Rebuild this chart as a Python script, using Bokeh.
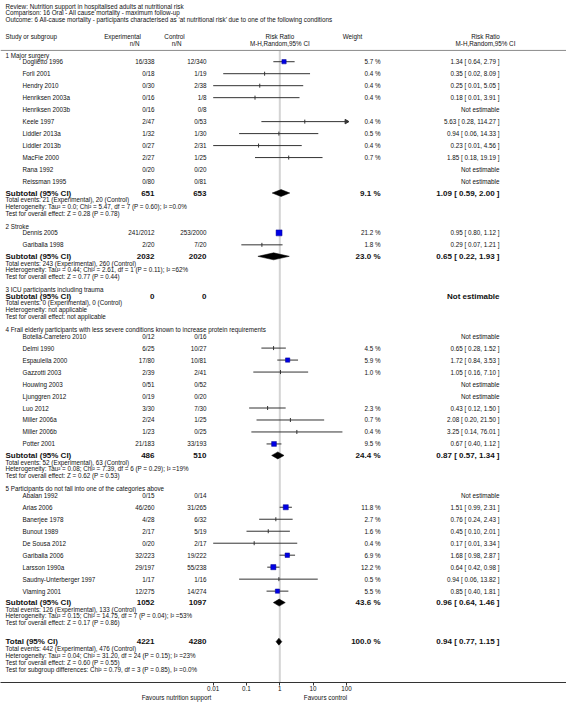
import math
from bokeh.plotting import figure
from bokeh.models import (Range1d, LogScale, LogAxis, LinearAxis, FixedTicker, ColumnDataSource)
from bokeh.core.properties import value
from bokeh.embed import file_html
from bokeh.resources import INLINE

# ---------------- data ----------------
review = "Review:  Nutrition support in hospitalised adults at nutritional risk"
comparison = "Comparison:  16 Oral - All cause mortality - maximum follow-up"
outcome = "Outcome:  6 All-cause mortality - participants characterised as \u2018at nutritional risk\u2019 due to one of the following conditions"

group_titles = [
    "1 Major surgery",
    "2 Stroke",
    "3 ICU participants including trauma",
    "4 Frail elderly participants with less severe conditions known to increase protein requirements",
    "5 Participants do not fall into one of the categories above",
]

names1 = ["Doglietto 1996", "Forli 2001", "Hendry 2010", "Henriksen 2003a", "Henriksen 2003b", "Keele 1997",
          "Liddler 2013a", "Liddler 2013b", "MacFie 2000", "Rana 1992", "Reissman 1995"]
exp1 = ["16/338", "0/18", "0/30", "0/16", "0/16", "2/47", "1/32", "0/27", "2/27", "0/20", "0/80"]
ctl1 = ["12/340", "1/19", "2/38", "1/8", "0/8", "0/53", "1/30", "2/31", "1/25", "0/20", "0/81"]
rr1 = [1.34, 0.35, 0.25, 0.18, None, 5.63, 0.94, 0.23, 1.85, None, None]
lo1 = [0.64, 0.02, 0.01, 0.01, None, 0.28, 0.06, 0.01, 0.18, None, None]
hi1 = [2.79, 8.09, 5.05, 3.91, None, 114.27, 14.33, 4.56, 19.19, None, None]
w1 = [5.7, 0.4, 0.4, 0.4, None, 0.4, 0.5, 0.4, 0.7, None, None]

names2 = ["Dennis 2005", "Gariballa 1998"]
exp2 = ["241/2012", "2/20"]
ctl2 = ["253/2000", "7/20"]
rr2 = [0.95, 0.29]
lo2 = [0.80, 0.07]
hi2 = [1.12, 1.21]
w2 = [21.2, 1.8]

names3, exp3, ctl3, rr3, lo3, hi3, w3 = [], [], [], [], [], [], []

names4 = ["Botella-Carretero 2010", "Delmi 1990", "Espaulella 2000", "Gazzotti 2003", "Houwing 2003",
          "Ljunggren 2012", "Luo 2012", "Miller 2006a", "Miller 2006b", "Potter 2001"]
exp4 = ["0/12", "6/25", "17/80", "2/39", "0/51", "0/19", "3/30", "2/24", "1/23", "21/183"]
ctl4 = ["0/16", "10/27", "10/81", "2/41", "0/52", "0/20", "7/30", "1/25", "0/25", "33/193"]
rr4 = [None, 0.65, 1.72, 1.05, None, None, 0.43, 2.08, 3.25, 0.67]
lo4 = [None, 0.28, 0.84, 0.16, None, None, 0.12, 0.20, 0.14, 0.40]
hi4 = [None, 1.52, 3.53, 7.10, None, None, 1.50, 21.50, 76.01, 1.12]
w4 = [None, 4.5, 5.9, 1.0, None, None, 2.3, 0.7, 0.4, 9.5]

names5 = ["Abalan 1992", "Arias 2006", "Banerjee 1978", "Bunout 1989", "De Sousa 2012", "Gariballa 2006",
          "Larsson 1990a", "Saudny-Unterberger 1997", "Vlaming 2001"]
exp5 = ["0/15", "46/260", "4/28", "2/17", "0/20", "32/223", "29/197", "1/17", "12/275"]
ctl5 = ["0/14", "31/265", "6/32", "5/19", "2/17", "19/222", "55/238", "1/16", "14/274"]
rr5 = [None, 1.51, 0.76, 0.45, 0.17, 1.68, 0.64, 0.94, 0.85]
lo5 = [None, 0.99, 0.24, 0.10, 0.01, 0.98, 0.42, 0.06, 0.40]
hi5 = [None, 2.31, 2.43, 2.01, 3.34, 2.87, 0.98, 13.82, 1.81]
w5 = [None, 11.8, 2.7, 1.6, 0.4, 6.9, 12.2, 0.5, 5.5]

sub_exp = ["651", "2032", "0", "486", "1052"]
sub_ctl = ["653", "2020", "0", "510", "1097"]
sub_w = ["9.1 %", "23.0 %", "", "24.4 %", "43.6 %"]
sub_rr = [1.09, 0.65, None, 0.87, 0.96]
sub_lo = [0.59, 0.22, None, 0.57, 0.64]
sub_hi = [2.00, 1.93, None, 1.34, 1.46]
sub_events = ["Total events: 21 (Experimental), 20 (Control)",
              "Total events: 243 (Experimental), 260 (Control)",
              "Total events: 0 (Experimental), 0 (Control)",
              "Total events: 52 (Experimental), 63 (Control)",
              "Total events: 126 (Experimental), 133 (Control)"]
sub_het = ["Heterogeneity: Tau\u00b2 = 0.0; Chi\u00b2 = 5.47, df = 7 (P = 0.60); I\u00b2 =0.0%",
           "Heterogeneity: Tau\u00b2 = 0.44; Chi\u00b2 = 2.61, df = 1 (P = 0.11); I\u00b2 =62%",
           "Heterogeneity: not applicable",
           "Heterogeneity: Tau\u00b2 = 0.08; Chi\u00b2 = 7.39, df = 6 (P = 0.29); I\u00b2 =19%",
           "Heterogeneity: Tau\u00b2 = 0.15; Chi\u00b2 = 14.75, df = 7 (P = 0.04); I\u00b2 =53%"]
sub_test = ["Test for overall effect: Z = 0.28 (P = 0.78)",
            "Test for overall effect: Z = 0.77 (P = 0.44)",
            "Test for overall effect: not applicable",
            "Test for overall effect: Z = 0.62 (P = 0.53)",
            "Test for overall effect: Z = 0.17 (P = 0.86)"]

total_exp, total_ctl, total_w = "4221", "4280", "100.0 %"
total_rr, total_lo, total_hi = 0.94, 0.77, 1.15
total_lines = ["Total events: 442 (Experimental), 476 (Control)",
               "Heterogeneity: Tau\u00b2 = 0.04; Chi\u00b2 = 31.20, df = 24 (P = 0.15); I\u00b2 =23%",
               "Test for overall effect: Z = 0.60 (P = 0.55)",
               "Test for subgroup differences: Chi\u00b2 = 0.79, df = 3 (P = 0.85), I\u00b2 =0.0%"]

axis_ticks = [0.01, 0.1, 1, 10, 100]
axis_tick_labels = ["0.01", "0.1", "1", "10", "100"]
favours_labels = ["Favours nutrition support", "Favours control"]

groups = [
    (names1, exp1, ctl1, rr1, lo1, hi1, w1),
    (names2, exp2, ctl2, rr2, lo2, hi2, w2),
    (names3, exp3, ctl3, rr3, lo3, hi3, w3),
    (names4, exp4, ctl4, rr4, lo4, hi4, w4),
    (names5, exp5, ctl5, rr5, lo5, hi5, w5),
]

# ---------------- layout (picture pixel coordinates) ----------------
W, H = 566, 703
AXIS_Y = 683
ONE_X = 279.3
DECADE = 33.3
PLOT_MIN, PLOT_MAX = 0.01, 100
FAVOURS_X = [176, 325]

X_LEFT = 5
X_NAME = 22
X_EXP = 154
X_CTL = 206
X_W = 380
X_RR = 499

FS = "6.3px"
FS_B = "8px"
FONT = value("Liberation Sans")
TXT = "#111111"

p = figure(width=W, height=H, x_range=Range1d(0, W), y_range=Range1d(AXIS_Y, 0),
           x_axis_type=None, y_axis_type=None, output_backend="svg", toolbar_location=None,
           min_border_left=0, min_border_right=0, min_border_top=0,
           min_border_bottom=H - AXIS_Y)
p.outline_line_color = None
p.background_fill_color = "white"
p.border_fill_color = "white"

lx0 = 10 ** ((0 - ONE_X) / DECADE)
lx1 = 10 ** ((W - ONE_X) / DECADE)
p.extra_x_ranges = {"rr": Range1d(start=lx0, end=lx1)}
p.extra_x_scales = {"rr": LogScale()}

texts = {}


def add_text(x, y, t, size=FS, bold=False, align="left"):
    key = (size, bold, align)
    d = texts.setdefault(key, {"x": [], "y": [], "t": []})
    d["x"].append(x)
    d["y"].append(y)
    d["t"].append(t)


def fmt_rr(r, l, h):
    return "%.2f [ %.2f, %.2f ]" % (r, l, h)


# titles and header
add_text(X_LEFT, 6.0, review)
add_text(X_LEFT, 12.5, comparison)
add_text(X_LEFT, 19.0, outcome)
HY1, HY2, RULE_Y = 36.5, 43.0, 50
add_text(X_LEFT, HY1, "Study or subgroup")
add_text(122, HY1, "Experimental", align="center")
add_text(139, HY2, "n/N", align="right")
add_text(174, HY1, "Control", align="center")
add_text(181, HY2, "n/N", align="right")
add_text(ONE_X, HY1, "Risk Ratio", align="center")
add_text(ONE_X, HY2, "M-H,Random,95% CI", align="center")
add_text(352, HY1, "Weight", align="center")
add_text(485, HY1, "Risk Ratio", align="center")
add_text(485, HY2, "M-H,Random,95% CI", align="center")

seg = {"x0": [], "x1": [], "y": []}
sq = {"x": [], "y": [], "s": []}
tick = {"x": [], "y": []}
arrow = {"x": [], "y": []}
dia_xs, dia_ys = [], []

y = 55.0
for gi, (names, ex, ct, rr, lo, hi, w) in enumerate(groups):
    add_text(X_LEFT, y, group_titles[gi])
    if names:
        y += 6.3
        for k in range(len(names)):
            add_text(X_NAME, y, names[k])
            add_text(X_EXP, y, ex[k], align="right")
            add_text(X_CTL, y, ct[k], align="right")
            if rr[k] is None:
                add_text(X_RR, y, "Not estimable", align="right")
            else:
                add_text(X_W, y, "%.1f %%" % w[k], align="right")
                add_text(X_RR, y, fmt_rr(rr[k], lo[k], hi[k]), align="right")
                seg["x0"].append(max(lo[k], PLOT_MIN))
                seg["x1"].append(min(hi[k], PLOT_MAX))
                seg["y"].append(y)
                if hi[k] > PLOT_MAX:
                    arrow["x"].append(PLOT_MAX)
                    arrow["y"].append(y)
                if w[k] >= 5:
                    sq["x"].append(rr[k])
                    sq["y"].append(y)
                    sq["s"].append(2.5 + 0.75 * math.sqrt(w[k]))
                else:
                    tick["x"].append(rr[k])
                    tick["y"].append(y)
            if k < len(names) - 1:
                y += 12
        y += 11.5
    else:
        y += 6.4
    add_text(X_LEFT, y, "Subtotal (95% CI)", size=FS_B, bold=True)
    add_text(X_EXP, y, sub_exp[gi], size=FS_B, bold=True, align="right")
    add_text(X_CTL, y, sub_ctl[gi], size=FS_B, bold=True, align="right")
    if sub_rr[gi] is None:
        add_text(X_RR, y, "Not estimable", size=FS_B, bold=True, align="right")
    else:
        add_text(X_W, y, sub_w[gi], size=FS_B, bold=True, align="right")
        add_text(X_RR, y, fmt_rr(sub_rr[gi], sub_lo[gi], sub_hi[gi]), size=FS_B, bold=True, align="right")
        dia_xs.append([sub_lo[gi], sub_rr[gi], sub_hi[gi], sub_rr[gi]])
        dia_ys.append([y, y - 3.5, y, y + 3.5])
    y += 6.7
    add_text(X_LEFT, y, sub_events[gi])
    y += 6.7
    add_text(X_LEFT, y, sub_het[gi])
    y += 6.7
    add_text(X_LEFT, y, sub_test[gi])
    if gi < len(groups) - 1:
        y += 13.5

y += 19
add_text(X_LEFT, y, "Total (95% CI)", size=FS_B, bold=True)
add_text(X_EXP, y, total_exp, size=FS_B, bold=True, align="right")
add_text(X_CTL, y, total_ctl, size=FS_B, bold=True, align="right")
add_text(X_W, y, total_w, size=FS_B, bold=True, align="right")
add_text(X_RR, y, fmt_rr(total_rr, total_lo, total_hi), size=FS_B, bold=True, align="right")
dia_xs.append([total_lo, total_rr, total_hi, total_rr])
dia_ys.append([y, y - 3.5, y, y + 3.5])
for line in total_lines:
    y += 7
    add_text(X_LEFT, y, line)

# ---------------- drawing ----------------
p.segment(x0=[1], x1=[1], y0=[RULE_Y], y1=[AXIS_Y], x_range_name="rr",
          line_color="#d4d4d4", line_width=2)
p.segment(x0=[0], x1=[W], y0=[RULE_Y], y1=[RULE_Y], line_color="#8c8c8c", line_width=1)

p.segment(x0="x0", x1="x1", y0="y", y1="y", source=ColumnDataSource(seg), x_range_name="rr",
          line_color="#333333", line_width=1)
p.scatter(x="x", y="y", source=ColumnDataSource(tick), x_range_name="rr", marker="dash",
          angle=math.pi / 2, size=4, line_color="#333333", line_width=1)
p.scatter(x="x", y="y", source=ColumnDataSource(arrow), x_range_name="rr", marker="triangle",
          angle=-math.pi / 2, size=4.5, fill_color="#333333", line_color="#333333")
p.scatter(x="x", y="y", size="s", source=ColumnDataSource(sq), x_range_name="rr", marker="square",
          fill_color="#0000e6", line_color="#00008b", line_width=0.5)
p.patches(xs=dia_xs, ys=dia_ys, x_range_name="rr", fill_color="black", line_color="black",
          line_width=0.5)

for (size, bold, align), d in texts.items():
    p.text(x="x", y="y", text="t", source=ColumnDataSource(d), text_font=FONT,
           text_font_size=size, text_font_style="bold" if bold else "normal",
           text_align=align, text_baseline="middle", text_color=TXT)

# risk-ratio axis (log scale)
ax = LogAxis(x_range_name="rr", ticker=FixedTicker(ticks=axis_ticks),
             major_label_overrides={t: l for t, l in zip(axis_ticks, axis_tick_labels)})
ax.axis_line_color = "#333333"
ax.major_tick_line_color = "#333333"
ax.major_tick_out = 3
ax.major_tick_in = 0
ax.minor_tick_line_color = None
ax.major_label_standoff = 0
ax.major_label_text_font = "Liberation Sans"
ax.major_label_text_font_size = FS
ax.major_label_text_color = TXT
p.add_layout(ax, "below")

# "Favours ..." captions as a second, line-less axis under the first
fav = LinearAxis(ticker=FixedTicker(ticks=FAVOURS_X),
                 major_label_overrides={x: t for x, t in zip(FAVOURS_X, favours_labels)})
fav.axis_line_color = None
fav.major_tick_line_color = None
fav.minor_tick_line_color = None
fav.major_tick_out = 0
fav.major_tick_in = 0
fav.major_label_standoff = 0
fav.major_label_text_font = "Liberation Sans"
fav.major_label_text_font_size = FS
fav.major_label_text_color = TXT
p.add_layout(fav, "below")

open("out.html", "w").write(file_html(p, INLINE))
